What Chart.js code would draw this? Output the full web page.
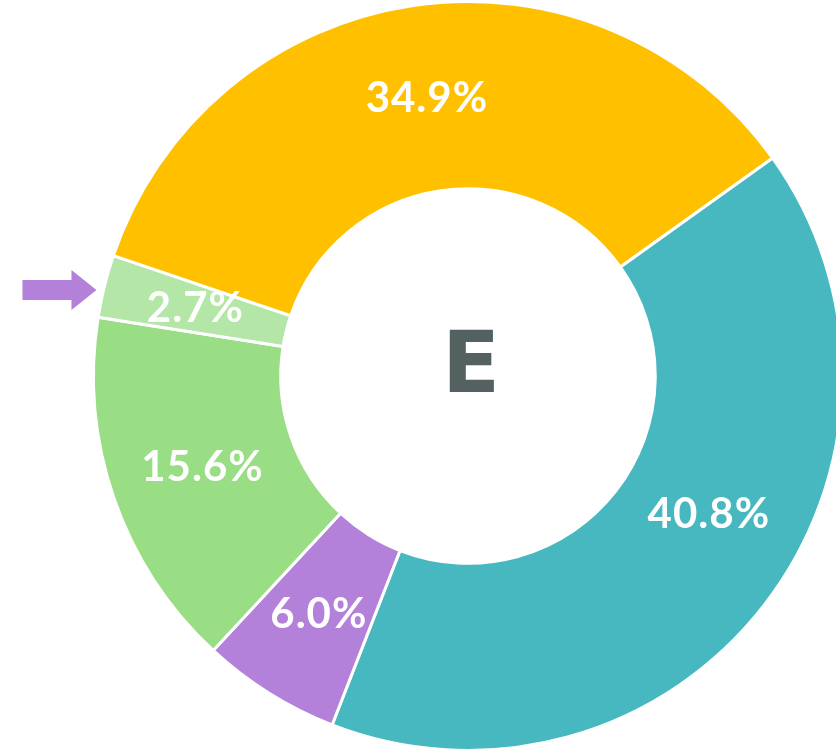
<!DOCTYPE html>
<html>
<head>
<meta charset="utf-8">
<script src="https://cdn.jsdelivr.net/npm/chart.js@4/dist/chart.umd.min.js"></script>
<style>
  html, body { margin: 0; padding: 0; background: #fff; overflow: hidden; }
  #wrap { width: 836px; height: 754px; overflow: hidden; position: relative; }
  #pie { position: absolute; left: 0; top: 0; }
</style>
</head>
<body>
<div id="wrap">
  <canvas id="pie" width="936" height="752"></canvas>
</div>
<script>
const categories = ['A', 'B', 'C', 'D', 'F']
const shares = [40.8, 6.0, 15.6, 2.7, 34.9]
const sliceColors = ['#47B8C0', '#B381D9', '#99DE85', '#B3E6A7', '#FFC000']
const centerLabel = 'E'
const markedSlice = 3

// the big slice label sits a bit off its centroid in the original
const labelShift = {0: {x: 19, y: -34}}

const sliceLabels = {
  id: 'sliceLabels',
  afterDatasetsDraw(chart) {
    const ctx = chart.ctx
    const arcs = chart.getDatasetMeta(0).data
    ctx.save()
    ctx.fillStyle = '#ffffff'
    ctx.font = 'bold 42px Lato'
    ctx.letterSpacing = '1px'
    ctx.textAlign = 'center'
    ctx.textBaseline = 'middle'
    arcs.forEach((arc, i) => {
      const p = arc.tooltipPosition()
      const s = labelShift[i] || {x: 0, y: 0}
      ctx.fillText(shares[i].toFixed(1) + '%', p.x + s.x, p.y + s.y)
    })
    ctx.restore()

    // centre letter
    const c = arcs[0]
    ctx.save()
    ctx.fillStyle = '#546161'
    ctx.font = 'bold 85px "DejaVu Sans"'
    ctx.textAlign = 'center'
    ctx.textBaseline = 'alphabetic'
    ctx.fillText(centerLabel, c.x + 3, c.y + 16)
    ctx.restore()

    // arrow pointing at the small slice
    const a = arcs[markedSlice]
    const mid = (a.startAngle + a.endAngle) / 2
    const tipX = a.x + Math.cos(mid) * a.outerRadius - 8
    const tipY = a.y + Math.sin(mid) * a.outerRadius + 4
    const len = 74, shaftH = 20, headL = 25, headH = 40
    ctx.save()
    ctx.fillStyle = '#B381D9'
    ctx.beginPath()
    ctx.moveTo(tipX, tipY)
    ctx.lineTo(tipX - headL, tipY - headH / 2)
    ctx.lineTo(tipX - headL, tipY - shaftH / 2)
    ctx.lineTo(tipX - len, tipY - shaftH / 2)
    ctx.lineTo(tipX - len, tipY + shaftH / 2)
    ctx.lineTo(tipX - headL, tipY + shaftH / 2)
    ctx.lineTo(tipX - headL, tipY + headH / 2)
    ctx.closePath()
    ctx.fill()
    ctx.restore()
  }
}

new Chart(document.getElementById('pie'), {
  type: 'doughnut',
  data: {
    labels: categories,
    datasets: [{
      data: shares,
      backgroundColor: sliceColors,
      borderColor: '#ffffff',
      borderWidth: 3
    }]
  },
  options: {
    responsive: false,
    animation: false,
    cutout: '50%',
    rotation: 54.4,
    layout: { padding: 0 },
    plugins: {
      legend: { display: false },
      tooltip: { enabled: false }
    }
  },
  plugins: [sliceLabels]
})
</script>
</body>
</html>
